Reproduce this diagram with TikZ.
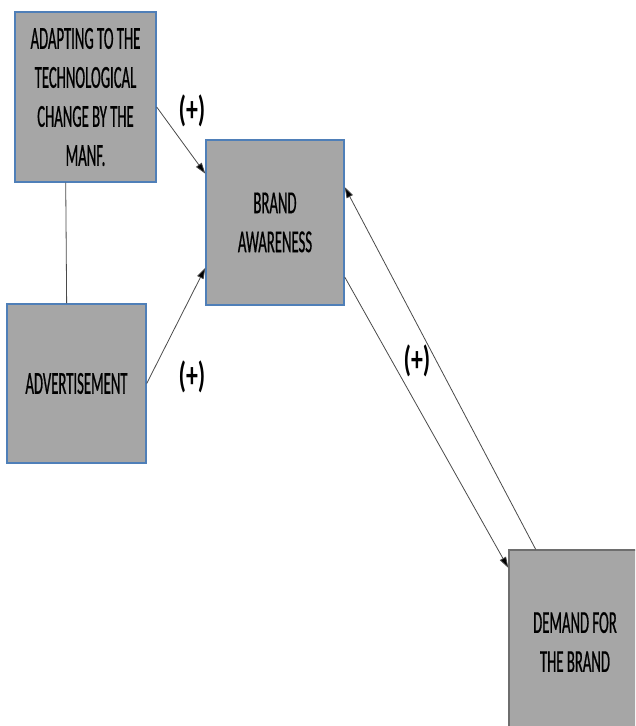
\documentclass[tikz,border=0pt]{standalone}
\usepackage{fontspec}
\usepackage{tikz}
\newfontfamily\boxfont{Carlito}[FakeStretch=0.46, FakeBold=0.6]
\newfontfamily\signfont{Carlito}[FakeStretch=0.66]
\definecolor{boxgray}{HTML}{A6A6A6}
\definecolor{boxblue}{HTML}{4F7FB8}
\definecolor{linegray}{HTML}{4A4A4A}
\usetikzlibrary{positioning, arrows.meta, shapes}
\tikzstyle{arrow} = [line width=0.8pt, draw=linegray, -{Triangle[length=11pt,width=7pt,fill=black]}]

\begin{document}
\begin{tikzpicture}[x=1pt, y=-1pt]
                \tikzstyle{every node}=[font=\boxfont\fontsize{32}{39}\selectfont]
                \tikzstyle{factor} = [rectangle, draw=boxblue, line width=1.4pt, fill=boxgray, align=center, inner sep=0pt]
                \tikzstyle{sign} = [font=\signfont\bfseries\fontsize{36}{36}\selectfont]
                \tikzstyle{link} = [line width=0.8pt, draw=linegray]

                \useasboundingbox (0,0) rectangle (635,726);
                \clip (0,0) rectangle (635,726);

                \node[factor, minimum width=141pt, minimum height=170pt](tech) at (85.5,97) {ADAPTING TO THE\\TECHNOLOGICAL\\CHANGE BY THE\\MANF.};
                \node[factor, minimum width=138pt, minimum height=165pt](brand) at (275,222.5) {BRAND\\AWARENESS};
                \node[factor, minimum width=139pt, minimum height=159pt](advert) at (76.5,383.5) {ADVERTISEMENT};
                % demand box runs past the page edge
                \node[factor, draw=linegray!80, minimum width=132pt, minimum height=184pt](demand) at (575,642) {DEMAND FOR\\THE BRAND};

                \draw[link] (tech.257) -- (advert.97.5);

                \draw[arrow] (tech.-8) -- (brand.145.5);
                \draw[arrow] (advert.east) -- (brand.213.4);
                \draw[arrow] (demand.113.5) -- (brand.27.2);
                \draw[arrow] (brand.-38.8) -- (demand.132.5);

                % the (+) signs
                \node[sign](s1) at (192,111) {(+)};
                \node[sign](s2) at (192,377) {(+)};
                \node[sign](s3) at (417,361) {(+)};

        \end{tikzpicture}
\end{document}
